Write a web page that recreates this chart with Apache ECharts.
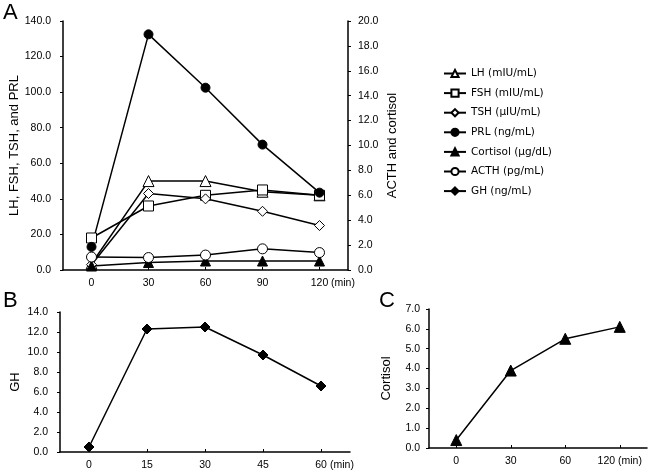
<!DOCTYPE html>
<html>
<head>
<meta charset="utf-8">
<script src="https://cdn.jsdelivr.net/npm/echarts@6/dist/echarts.min.js"></script>
<style>
html,body{margin:0;padding:0;background:#fff;}
#c{width:661px;height:474px;}
</style>
</head>
<body>
<div id="c"></div>
<script>
// Panel A
var catsA = ['0', '30', '60', '90', '120'];
var lh = [3.5, 50, 50, 44, 42];
var fsh = [18, 36, 42, 45, 42];
var tsh = [3, 43, 40, 33, 25];
var prl = [13, 132.5, 102.5, 70.5, 43.5];
var cortisolA = [0.32, 0.6, 0.72, 0.72, 0.72];
var acth = [1.04, 1.0, 1.2, 1.7, 1.4];
var ghA = [];
// Panel B
var catsB = ['0', '15', '30', '45', '60'];
var ghB = [0.5, 12.3, 12.5, 9.7, 6.6];
// Panel C
var catsC = ['0', '30', '60', '120'];
var cortisolC = [0.4, 3.9, 5.5, 6.1];

var FONT = 'Liberation Sans, Arial, sans-serif';
var chart = echarts.init(document.getElementById('c'));

function xAx(grid, cats, nameGap, name, fmt) {
  return {
    type: 'category', gridIndex: grid, data: cats, boundaryGap: true,
    name: name || '', nameLocation: 'end', nameGap: nameGap, nameMoveOverlap: false,
    nameTextStyle: {color: '#000', fontSize: 10.5, fontFamily: FONT, align: 'left', verticalAlign: 'top', padding: [8, 0, 0, 0]},
    axisLine: {lineStyle: {color: '#000', width: 1.5}},
    axisTick: {show: true, inside: true, alignWithLabel: true, length: 3, lineStyle: {color: '#000'}},
    axisLabel: {color: '#000', fontSize: 10.5, fontFamily: FONT, margin: 8, interval: 0, formatter: fmt},
    splitLine: {show: false}
  };
}
function yAx(grid, min, max, interval, name, nameGap, pos, margin) {
  return {
    type: 'value', gridIndex: grid, min: min, max: max, interval: interval,
    position: pos || 'left',
    name: name, nameLocation: 'middle', nameGap: nameGap, nameRotate: 90,
    nameTextStyle: {color: '#000', fontSize: 13, fontFamily: FONT},
    axisLine: {show: true, lineStyle: {color: '#000', width: 1.5}},
    axisTick: {show: true, length: 3, lineStyle: {color: '#000'}},
    axisLabel: {color: '#000', fontSize: 10.5, fontFamily: FONT, margin: margin,
      formatter: function (v) { return v.toFixed(1); }},
    splitLine: {show: false}
  };
}
function ser(name, data, xi, yi, symbol, size, fill) {
  return {
    name: name, type: 'line', data: data, xAxisIndex: xi, yAxisIndex: yi,
    symbol: symbol, symbolSize: size, showSymbol: true,
    lineStyle: {color: '#000', width: 1.5},
    itemStyle: {color: fill, borderColor: '#000', borderWidth: 1},
    emphasis: {disabled: true}, animation: false, z: 3
  };
}

chart.setOption({
  animation: false,
  textStyle: {fontFamily: FONT},
  grid: [
    {left: 63, top: 21, width: 285, height: 249},
    {left: 60, top: 312, width: 290, height: 140},
    {left: 429, top: 309, width: 218, height: 139}
  ],
  legend: {
    orient: 'vertical', left: 438, top: 63, itemGap: 8.6,
    itemWidth: 22, itemHeight: 9,
    textStyle: {color: '#000', fontSize: 10.5, fontFamily: 'DejaVu Sans, sans-serif'},
    data: ['LH (mIU/mL)', 'FSH (mIU/mL)', 'TSH (μIU/mL)', 'PRL (ng/mL)', 'Cortisol (μg/dL)', 'ACTH (pg/mL)', 'GH (ng/mL)'],
    selectedMode: false
  },
  xAxis: [
    xAx(0, catsA, -17, '(min)'),
    xAx(1, catsB, -20, '(min)'),
    xAx(2, catsC, 0, '', function (v, i) { return i === catsC.length - 1 ? v + ' (min)' : v; })
  ],
  yAxis: [
    yAx(0, 0, 140, 20, 'LH, FSH, TSH, and PRL', 40, 'left', 12),
    yAx(0, 0, 20, 2, 'ACTH and cortisol', 38, 'right', 10),
    yAx(1, 0, 14, 2, 'GH', 38, 'left', 12),
    yAx(2, 0, 7, 1, 'Cortisol', 36, 'left', 9)
  ],
  graphic: [
    {type: 'text', left: 3, top: 2, style: {text: 'A', fontSize: 22, fill: '#000', fontFamily: FONT}},
    {type: 'text', left: 3, top: 290, style: {text: 'B', fontSize: 22, fill: '#000', fontFamily: FONT}},
    {type: 'text', left: 379, top: 290, style: {text: 'C', fontSize: 22, fill: '#000', fontFamily: FONT}}
  ],
  series: [
    ser('LH (mIU/mL)', lh, 0, 0, 'triangle', 11, '#fff'),
    ser('FSH (mIU/mL)', fsh, 0, 0, 'rect', 10, '#fff'),
    ser('TSH (μIU/mL)', tsh, 0, 0, 'diamond', 10, '#fff'),
    ser('PRL (ng/mL)', prl, 0, 0, 'circle', 9, '#000'),
    ser('Cortisol (μg/dL)', cortisolA, 0, 1, 'triangle', 10, '#000'),
    ser('ACTH (pg/mL)', acth, 0, 1, 'circle', 10, '#fff'),
    ser('GH (ng/mL)', ghA, 0, 0, 'diamond', 10, '#000'),
    ser('GH B', ghB, 1, 2, 'diamond', 10, '#000'),
    ser('Cortisol C', cortisolC, 2, 3, 'triangle', 11, '#000')
  ]
});
</script>
</body>
</html>
